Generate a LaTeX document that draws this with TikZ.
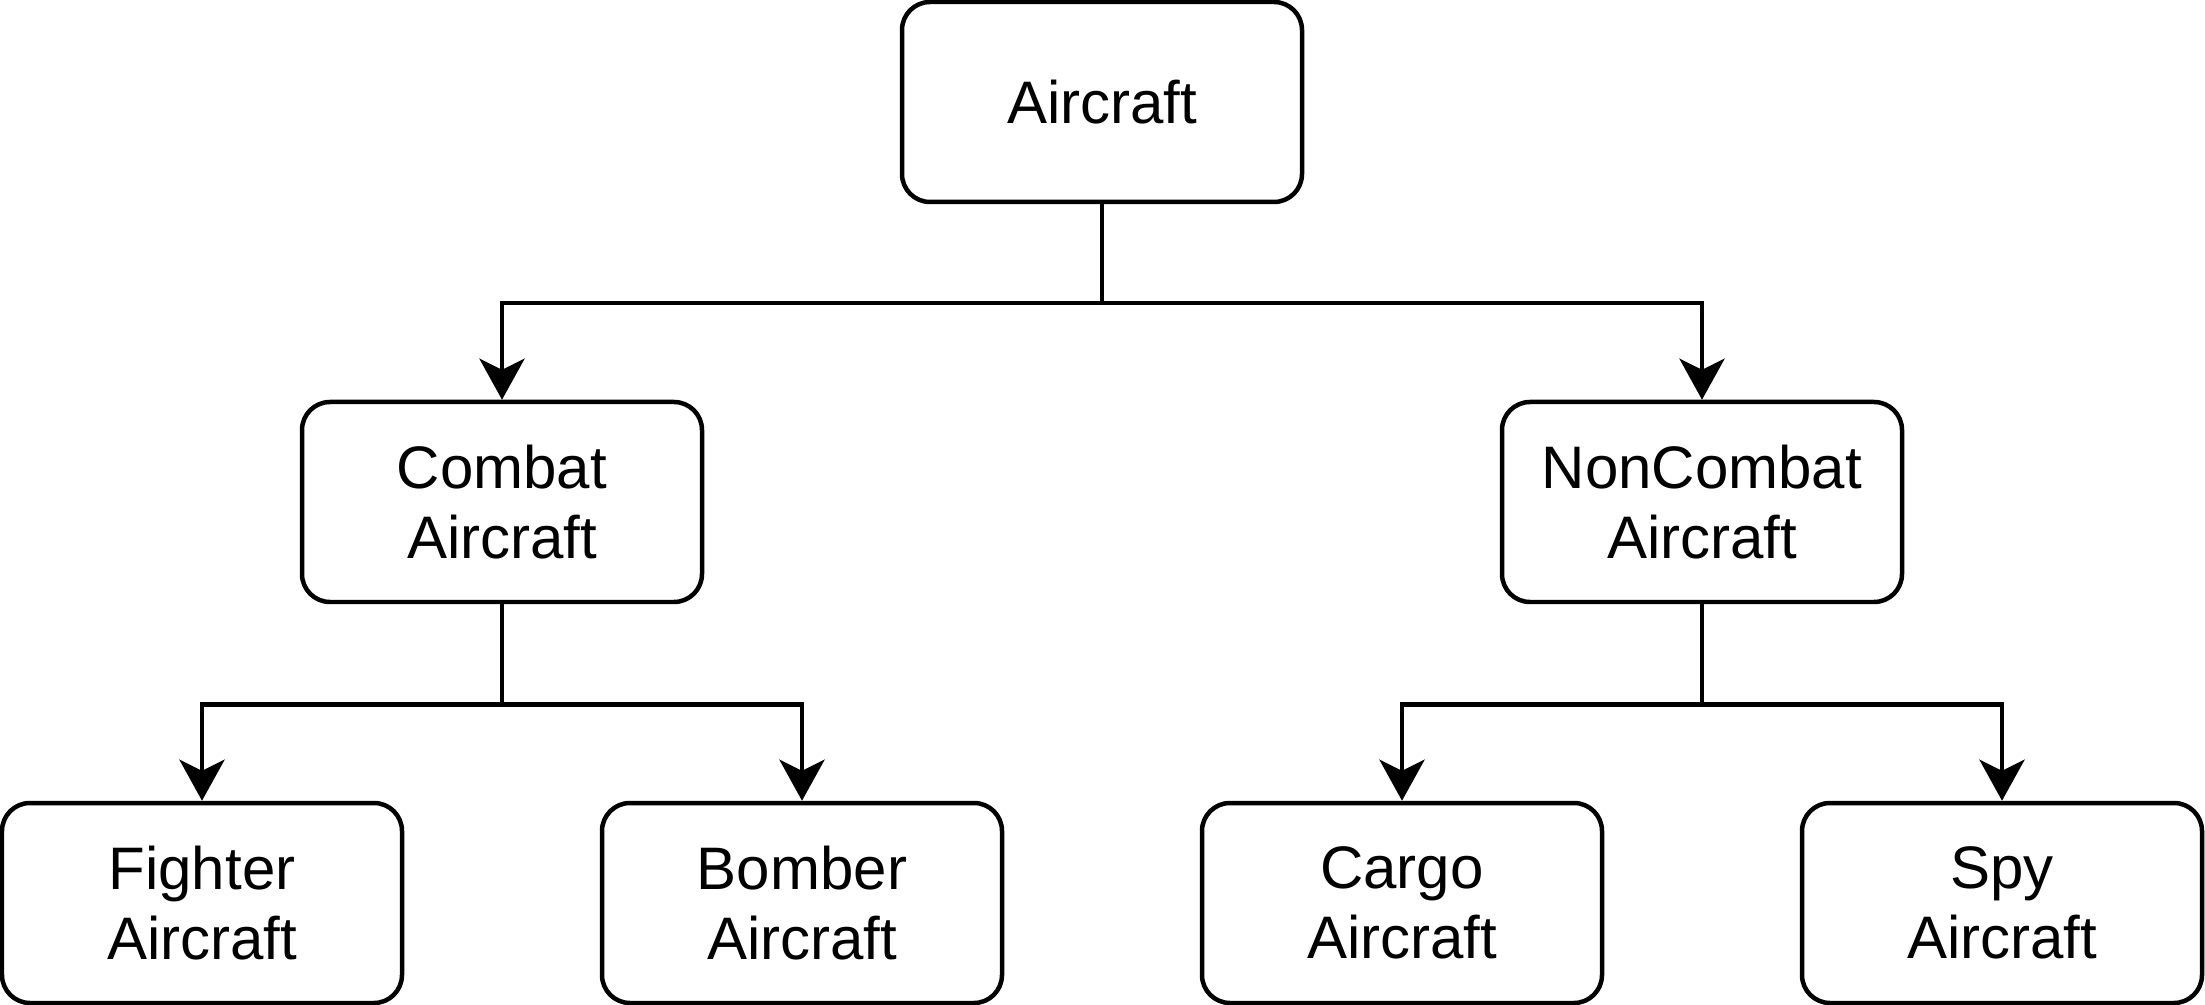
\documentclass[tikz,border=0pt]{standalone}
\usepackage{fontspec}
\setmainfont{Liberation Sans}
\usetikzlibrary{arrows.meta}

\tikzset{
  classbox/.style={draw, line width=1.28pt, rounded corners=0.28cm,
    minimum width=4cm, minimum height=2cm, inner sep=0pt, align=center,
    font={\fontsize{17.07}{19.9}\selectfont}},
  isa/.style={line width=1.28pt,
    -{Stealth[length=0.41cm, width=0.45cm, inset=0.11cm]}}
}

\begin{document}
\begin{tikzpicture}
    \useasboundingbox (0,0) rectangle (22.05,-10.05);
    \node (A0) at (11.02,-1.02) [classbox] {Aircraft};
    \node (C1) at (5.02,-5.02) [classbox] {Combat\\Aircraft};
    \node (N1) at (17.02,-5.02) [classbox] {NonCombat\\Aircraft};
    \node (F2) at (2.02,-9.03) [classbox] {Fighter\\Aircraft};
    \node (B2) at (8.02,-9.03) [classbox] {Bomber\\Aircraft};
    \node (G2) at (14.02,-9.03) [classbox] {Cargo\\Aircraft};
    \node (S2) at (20.02,-9.03) [classbox] {Spy\\Aircraft};
    % first level
    \draw[isa] (A0.south) -- ++(0,-0.99) -| (C1.north);
    \draw[isa] (A0.south) -- ++(0,-0.99) -| (N1.north);
    % second level
    \draw[isa] (C1.south) -- ++(0,-1.0) -| (F2.north);
    \draw[isa] (C1.south) -- ++(0,-1.0) -| (B2.north);
    \draw[isa] (N1.south) -- ++(0,-1.0) -| (G2.north);
    \draw[isa] (N1.south) -- ++(0,-1.0) -| (S2.north);
\end{tikzpicture}
\end{document}
